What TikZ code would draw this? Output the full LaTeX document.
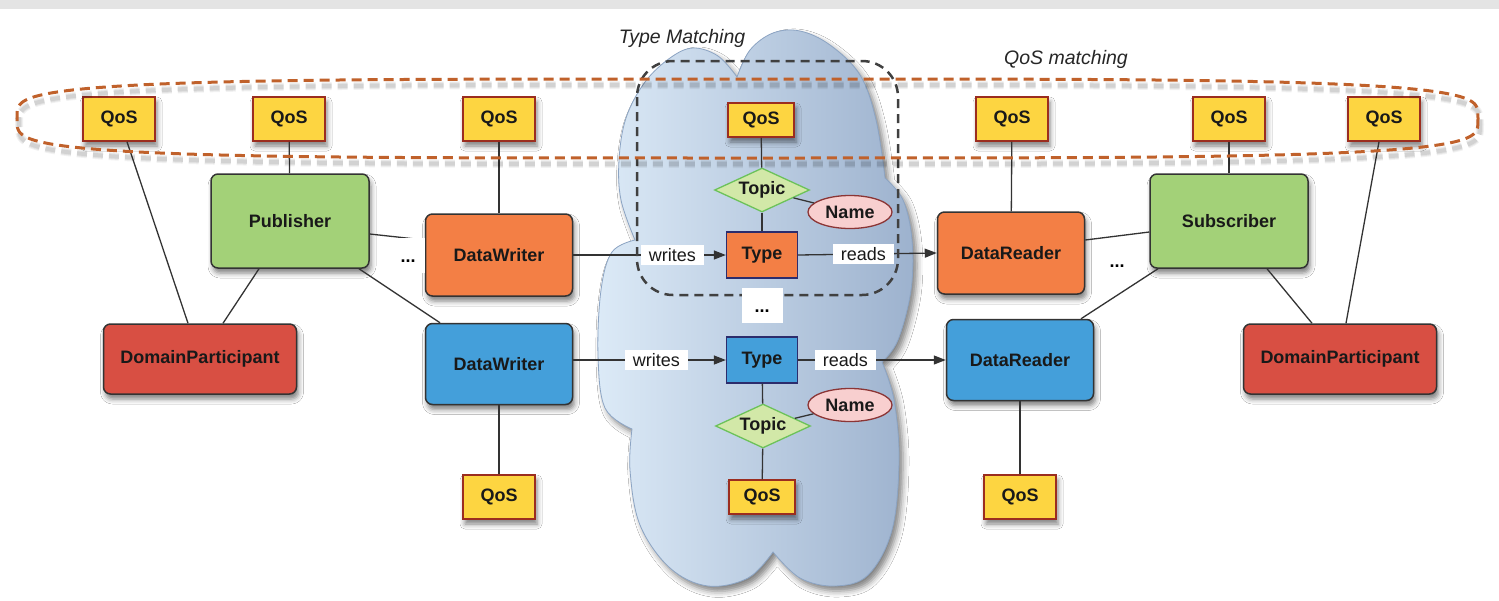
\documentclass[tikz,border=0pt]{standalone}
\usepackage{fontspec}
\setmainfont{Liberation Sans}
\usetikzlibrary{shapes.geometric,arrows.meta,calc,shadows.blur}

\definecolor{qosfill}{HTML}{FDD541}
\definecolor{qosline}{HTML}{9B2D1F}
\definecolor{grn}{HTML}{A3D178}
\definecolor{org}{HTML}{F37F45}
\definecolor{blu}{HTML}{449FDA}
\definecolor{redp}{HTML}{D84F43}
\definecolor{topicfill}{HTML}{D2E8A8}
\definecolor{topicline}{HTML}{6CC25A}
\definecolor{namefill}{HTML}{F8CFCF}
\definecolor{nameline}{HTML}{8B3535}
\definecolor{navy}{HTML}{2C2C6C}
\definecolor{rust}{HTML}{C0612B}
\definecolor{cloudL}{HTML}{DCEAF7}
\definecolor{cloudR}{HTML}{9DB2CE}
\definecolor{cloudline}{HTML}{8CA4C3}
\definecolor{ink}{HTML}{333333}
\definecolor{band}{HTML}{E4E4E4}

\begin{document}
\begin{tikzpicture}[x=1pt,y=-1pt,
  txt/.style={font=\fontsize{18}{20}\selectfont\bfseries, text=black!90},
  shad/.style={blur shadow={shadow xshift=2pt, shadow yshift=-5pt, shadow blur radius=5pt, shadow opacity=50}},
  qos/.style={txt, draw=qosline, line width=1.5pt, fill=qosfill, minimum width=72pt, minimum height=44pt, inner sep=0pt, shad},
  qoss/.style={qos, minimum width=66pt, minimum height=34pt},
  entity/.style={txt, draw=ink, line width=1.5pt, rounded corners=7pt, inner sep=0pt, shad},
  pubsub/.style={entity, fill=grn, minimum width=158pt, minimum height=94pt},
  orgbox/.style={entity, fill=org, minimum width=147pt, minimum height=82pt},
  blubox/.style={entity, fill=blu, minimum width=147pt, minimum height=81pt},
  dpbox/.style={entity, fill=redp, minimum width=193pt, minimum height=70pt},
  typebox/.style={txt, draw=navy, line width=1.3pt, minimum width=71pt, minimum height=46pt, inner sep=0pt},
  topicbox/.style={txt, diamond, aspect=2.16, draw=topicline, line width=1.3pt, fill=topicfill, minimum width=95pt, minimum height=44pt, inner sep=0pt},
  namebox/.style={txt, ellipse, draw=nameline, line width=1.3pt, fill=namefill, minimum width=84pt, minimum height=33pt, inner sep=0pt},
  conn/.style={draw=ink, line width=1.3pt},
  arr/.style={conn, -{Triangle[length=12pt,width=9pt]}},
  lab/.style={fill=white, font=\fontsize{18}{20}\selectfont, text=black!90, inner xsep=8pt, inner ysep=3pt},
  dotsbox/.style={fill=white, font=\fontsize{18}{20}\selectfont\bfseries, text height=14pt, text depth=0pt, inner sep=0pt},
  title/.style={font=\fontsize{19.5}{22}\selectfont\itshape, text=black!85}
]
\useasboundingbox (0,0) rectangle (1499,600);
\fill[white] (0,0) rectangle (1499,600);
\fill[band] (0,0) rectangle (1499,9);

% cloud of topics and types
\path[draw=cloudline, line width=0.8pt, left color=cloudL, right color=cloudR,
      blur shadow={shadow xshift=4pt, shadow yshift=-5pt, shadow blur radius=6pt, shadow opacity=50}]
  plot[smooth, tension=0.6] coordinates {(635,240) (621,200) (619,160) (626,118) (645,82) (670,58) (693,48) (718,56) (737,77)}
  -- plot[smooth, tension=0.6] coordinates {(737,77) (750,50) (773,33) (800,31) (830,45) (860,75) (876,120) (885,178)}
  -- plot[smooth, tension=0.6] coordinates {(885,178) (903,200) (912,240) (911,290) (898,340) (882,362)}
  -- plot[smooth, tension=0.6] coordinates {(882,362) (894,400) (899,460) (892,530) (868,575) (835,586) (800,578) (773,552)}
  -- plot[smooth, tension=0.6] coordinates {(773,552) (748,578) (708,586) (670,568) (640,525) (630,470) (632,429)}
  -- plot[smooth, tension=0.6] coordinates {(632,429) (605,408) (598,355) (601,290) (612,252) (635,240)}
  -- cycle;

% QoS policies, top row
\node[qos] (Q1) at (119,119) {QoS};
\node[qos] (Q2) at (289,119) {QoS};
\node[qos] (Q3) at (499,119) {QoS};
\node[qoss] (Qc) at (761,120) {QoS};
\node[qos] (Q5) at (1012,119) {QoS};
\node[qos] (Q6) at (1229,119) {QoS};
\node[qos] (Q7) at (1384,119) {QoS};

% entities
\node[pubsub] (Pub) at (290,221) {Publisher};
\node[pubsub] (Sub) at (1229,221) {Subscriber};
\node[orgbox] (DWo) at (499,255) {DataWriter};
\node[orgbox] (DRo) at (1011,253) {DataReader};
\node[blubox] (DWb) at (499,364) {DataWriter};
\node[blubox] (DRb) at (1020,360) {DataReader};
\node[dpbox] (DPL) at (200,359) {DomainParticipant};
\node[dpbox] (DPR) at (1340,359) {DomainParticipant};

% topics and types inside the cloud
\node[topicbox] (Tt) at (762,190) {Topic};
\node[namebox] (Nt) at (850,212) {Name};
\node[typebox, fill=org] (To) at (762,255) {Type};
\node[typebox, fill=blu] (Tb) at (762,360) {Type};
\node[topicbox] (Tbot) at (763,426) {Topic};
\node[namebox] (Nb) at (850,405) {Name};

% QoS policies, bottom row
\node[qos] (Q8) at (499,497) {QoS};
\node[qoss] (Qcb) at (762,497) {QoS};
\node[qos] (Q10) at (1020,497) {QoS};

% plain connectors
\draw[conn] ($(Q1.south)+(8,0)$) -- ($(DPL.north)+(-12,0)$);
\draw[conn] (Q2) -- (Pub);
\draw[conn] ($(Pub.south)+(-31,0)$) -- ($(DPL.north)+(23,0)$);
\draw[conn] ($(Pub.east)+(0,13)$) -- ($(DWo.west)+(0,-15)$);
\draw[conn] ($(Pub.south)+(69,0)$) -- ($(DWb.north)+(-59,0)$);
\draw[conn] (Q3) -- (DWo);
\draw[conn] (DWb) -- (Q8);
\draw[conn] (Qc) -- (Tt);
\draw[conn] (Tt) -- (To);
\draw[conn] (Tt) -- (Nt);
\draw[conn] (Tb) -- (Tbot);
\draw[conn] (Tbot) -- (Nb);
\draw[conn] (Tbot) -- (Qcb);
\draw[conn] (Q5) -- (DRo);
\draw[conn] ($(DRo.east)+(0,-13)$) -- ($(Sub.west)+(0,11)$);
\draw[conn] ($(Sub.south)+(-71,0)$) -- ($(DRb.north)+(61,0)$);
\draw[conn] (Q6) -- (Sub);
\draw[conn] ($(Sub.south)+(38,0)$) -- ($(DPR.north)+(-28,0)$);
\draw[conn] ($(Q7.south)+(-5,0)$) -- ($(DPR.north)+(6,0)$);
\draw[conn] (DRb) -- (Q10);

% writes / reads
\draw[arr] (DWo.east) -- node[lab, pos=0.65] {writes} (To.west);
\draw[arr] (To.east) -- node[lab, pos=0.47] {reads} (DRo.west);
\draw[arr] (DWb.east |- Tb.west) -- node[lab, pos=0.545] {writes} (Tb.west);
\draw[arr] (Tb.east) -- node[lab, pos=0.32] {reads} (DRb.west);

% type matching region
\draw[draw=black!75, line width=2.5pt, dash pattern=on 9pt off 6pt, rounded corners=36pt]
  (637,61) rectangle (898,295);

% QoS matching region, with a soft shadow under its dashes
\foreach \w/\o in {8/0.05, 6/0.06, 4/0.07} {
  \draw[black, opacity=\o, line width=\w pt, dash pattern=on 10pt off 6pt, shift={(2,6)}]
    plot[domain=0:360, samples=241, variable=\t]
    ({747.5+730.5*sign(cos(\t))*sqrt(abs(cos(\t)))}, {118.5+39.5*sign(sin(\t))*sqrt(abs(sin(\t)))});
}
\draw[rust, line width=3pt, dash pattern=on 10pt off 6pt]
  plot[domain=0:360, samples=241, variable=\t]
  ({747.5+730.5*sign(cos(\t))*sqrt(abs(cos(\t)))}, {118.5+39.5*sign(sin(\t))*sqrt(abs(sin(\t)))});

% ellipsis marks
\node[dotsbox, minimum width=33pt, minimum height=35pt] (D1) at (408,255) {...};
\node[dotsbox, minimum width=41pt, minimum height=35pt] (D2) at (762,305) {...};
\node[font=\fontsize{18}{20}\selectfont\bfseries, inner sep=0pt] (D3) at (1117,266) {...};

% titles
\node[title] (TM) at (682,38) {Type Matching};
\node[title] (QM) at (1066,59) {QoS matching};
\end{tikzpicture}
\end{document}
